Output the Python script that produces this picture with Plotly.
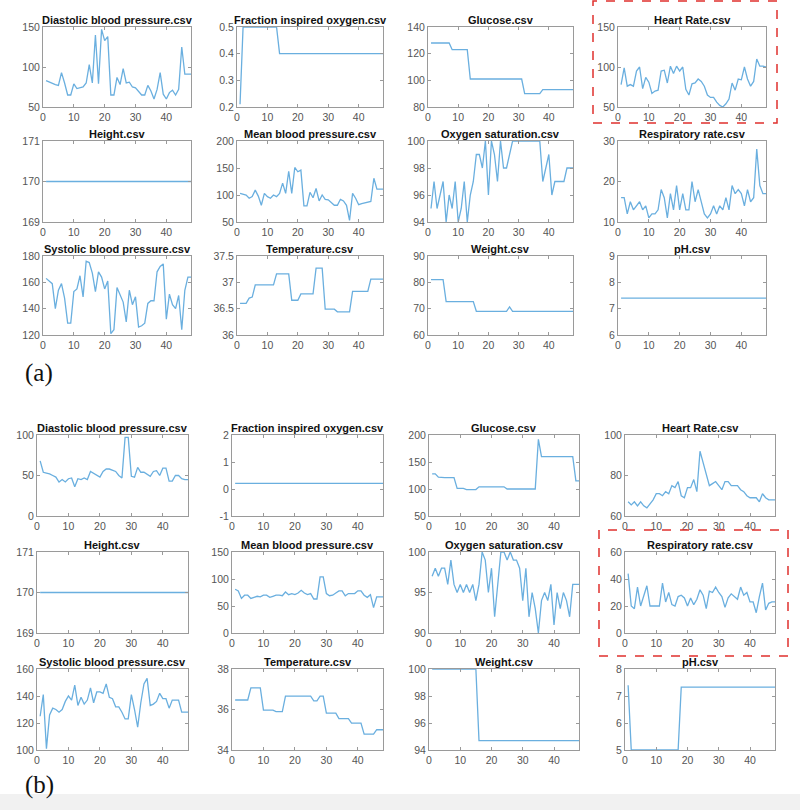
import plotly.graph_objects as go

# ---------------- data ----------------
hours = list(range(1, 49))
x_ticks = [0, 10, 20, 30, 40]
x_range = [0, 48]

titles = ["Diastolic blood pressure.csv", "Fraction inspired oxygen.csv", "Glucose.csv", "Heart Rate.csv",
          "Height.csv", "Mean blood pressure.csv", "Oxygen saturation.csv", "Respiratory rate.csv",
          "Systolic blood pressure.csv", "Temperature.csv", "Weight.csv", "pH.csv"]
panel_labels = ["(a)", "(b)"]

# ---- panel (a) ----
a_diastolic = [83, 81, 80, 78, 77, 93, 80, 65, 65, 79, 73, 74, 75, 80, 103, 80, 140, 79, 147, 133,
               138, 65, 65, 87, 78, 98, 80, 81, 75, 74, 70, 65, 65, 77, 70, 60, 72, 93, 66, 60,
               68, 71, 65, 72, 125, 91, 91, 91]
a_fio2 = [0.21, 0.5, 0.5, 0.5, 0.5, 0.5, 0.5, 0.5, 0.5, 0.5, 0.5, 0.5, 0.5, 0.4, 0.4, 0.4, 0.4, 0.4, 0.4, 0.4,
          0.4, 0.4, 0.4, 0.4, 0.4, 0.4, 0.4, 0.4, 0.4, 0.4, 0.4, 0.4, 0.4, 0.4, 0.4, 0.4, 0.4, 0.4, 0.4, 0.4,
          0.4, 0.4, 0.4, 0.4, 0.4, 0.4, 0.4, 0.4]
a_glucose = [128, 128, 128, 128, 128, 128, 128, 123, 123, 123, 123, 123, 123, 101, 101, 101, 101, 101, 101, 101,
             101, 101, 101, 101, 101, 101, 101, 101, 101, 101, 101, 90, 90, 90, 90, 90, 90, 93, 93, 93,
             93, 93, 93, 93, 93, 93, 93, 93]
a_heart = [78, 99, 76, 78, 76, 95, 100, 73, 87, 81, 67, 70, 71, 95, 96, 80, 101, 92, 101, 95,
           100, 72, 65, 79, 80, 85, 82, 76, 65, 62, 62, 56, 52, 50, 54, 60, 80, 71, 85, 84,
           100, 85, 76, 82, 110, 101, 101, 100]
a_height = [170, 170, 170, 170, 170, 170, 170, 170, 170, 170, 170, 170, 170, 170, 170, 170, 170, 170, 170, 170,
            170, 170, 170, 170, 170, 170, 170, 170, 170, 170, 170, 170, 170, 170, 170, 170, 170, 170, 170, 170,
            170, 170, 170, 170, 170, 170, 170, 170]
a_meanbp = [103, 101, 100, 94, 97, 109, 98, 81, 103, 97, 94, 100, 97, 103, 122, 103, 144, 103, 151, 143,
            146, 80, 80, 105, 95, 112, 89, 100, 92, 91, 86, 81, 81, 92, 89, 81, 53, 103, 94, 82,
            84, 85, 86, 88, 131, 111, 111, 111]
a_oxygen = [95, 97, 95, 96, 97, 94, 96, 95, 97, 94, 95, 97, 94, 96, 97, 99, 99, 98, 100, 96,
            100, 99, 97, 100, 98, 98, 99, 100, 100, 100, 100, 100, 100, 100, 100, 100, 100, 97, 98, 99,
            96, 97, 97, 97, 97, 98, 98, 98]
a_resp = [16, 16, 12, 15, 13, 14, 15, 13, 14, 11, 12, 12, 13, 18, 16, 11, 17, 13, 19, 13,
          17, 13, 13, 20, 15, 18, 15, 12, 11, 12, 14, 12, 14, 13, 16, 13, 19, 17, 18, 17,
          14, 18, 15, 16, 28, 19, 17, 17]
a_systolic = [163, 161, 159, 140, 154, 159, 148, 129, 129, 153, 155, 165, 149, 176, 175, 167, 153, 168, 164, 155,
              161, 121, 124, 156, 151, 145, 130, 154, 143, 149, 126, 127, 129, 144, 146, 146, 168, 172, 174, 132,
              151, 143, 140, 150, 124, 154, 164, 164]
a_temp = [36.6, 36.6, 36.6, 36.7, 36.72, 36.95, 36.95, 36.95, 36.95, 36.95, 36.95, 36.95, 37.16, 37.16, 37.16,
          37.16, 37.16, 36.66, 36.66, 36.66, 36.78, 36.78, 36.78, 36.78, 36.78, 37.27, 37.27, 37.27, 36.49, 36.49,
          36.49, 36.49, 36.44, 36.44, 36.44, 36.44, 36.44, 36.83, 36.83, 36.83, 36.83, 36.83, 36.83, 37.06, 37.06,
          37.06, 37.06, 37.06]
a_weight = [81, 81, 81, 81, 81, 72.7, 72.7, 72.7, 72.7, 72.7, 72.7, 72.7, 72.7, 72.7, 72.7, 69, 69, 69, 69, 69,
            69, 69, 69, 69, 69, 69, 70.7, 69, 69, 69, 69, 69, 69, 69, 69, 69, 69, 69, 69, 69,
            69, 69, 69, 69, 69, 69, 69, 69]
a_ph = [7.4, 7.4, 7.4, 7.4, 7.4, 7.4, 7.4, 7.4, 7.4, 7.4, 7.4, 7.4, 7.4, 7.4, 7.4, 7.4, 7.4, 7.4, 7.4, 7.4,
        7.4, 7.4, 7.4, 7.4, 7.4, 7.4, 7.4, 7.4, 7.4, 7.4, 7.4, 7.4, 7.4, 7.4, 7.4, 7.4, 7.4, 7.4, 7.4, 7.4,
        7.4, 7.4, 7.4, 7.4, 7.4, 7.4, 7.4, 7.4]

# ---- panel (b) ----
b_diastolic = [68, 54, 53, 52, 50, 48, 42, 45, 42, 46, 47, 36, 46, 45, 47, 45, 55, 53, 51, 48,
               55, 58, 58, 56, 55, 50, 47, 97, 97, 49, 48, 60, 54, 54, 51, 49, 55, 56, 50, 59,
               59, 43, 43, 50, 50, 46, 45, 45]
b_fio2 = [0.21, 0.21, 0.21, 0.21, 0.21, 0.21, 0.21, 0.21, 0.21, 0.21, 0.21, 0.21, 0.21, 0.21, 0.21, 0.21,
          0.21, 0.21, 0.21, 0.21, 0.21, 0.21, 0.21, 0.21, 0.21, 0.21, 0.21, 0.21, 0.21, 0.21, 0.21, 0.21,
          0.21, 0.21, 0.21, 0.21, 0.21, 0.21, 0.21, 0.21, 0.21, 0.21, 0.21, 0.21, 0.21, 0.21, 0.21, 0.21]
b_glucose = [128, 128, 122, 121, 121, 121, 121, 121, 101, 101, 101, 99, 99, 99, 99, 104, 104, 104, 104, 104,
             104, 104, 104, 104, 100, 100, 100, 100, 100, 100, 100, 100, 100, 100, 192, 160, 160, 160, 160, 160,
             160, 160, 160, 160, 160, 160, 115, 115]
b_heart = [67, 65.5, 67, 65, 67, 65, 64, 66, 68, 71, 71, 70, 72, 71, 75, 74, 77, 70, 69, 74,
           74, 78, 72, 92, 86, 80, 75, 76, 77, 75, 73, 77, 77, 75, 75, 75, 73, 72, 70, 69,
           69, 69, 67, 71, 69, 68, 68, 68]
b_height = [170, 170, 170, 170, 170, 170, 170, 170, 170, 170, 170, 170, 170, 170, 170, 170, 170, 170, 170, 170,
            170, 170, 170, 170, 170, 170, 170, 170, 170, 170, 170, 170, 170, 170, 170, 170, 170, 170, 170, 170,
            170, 170, 170, 170, 170, 170, 170, 170]
b_meanbp = [81, 78, 64, 70, 70, 64, 66, 68, 67, 70, 70, 66, 68, 70, 70, 69, 76, 71, 73, 71,
            74, 79, 74, 71, 73, 63, 63, 104, 104, 73, 69, 70, 74, 78, 78, 69, 73, 73, 73, 78,
            78, 70, 66, 71, 47, 67, 67, 67]
b_oxygen = [97, 98, 97, 98, 98, 96, 99, 96, 95, 96, 95, 96, 95, 96, 94, 96, 100, 99, 95, 98,
            92, 96, 100, 100, 99, 100, 99, 99, 98, 94, 98, 92, 95, 93, 90, 94, 95, 94, 96, 91,
            95, 93, 95, 94, 92, 96, 96, 96]
b_resp = [44, 20, 18, 34, 20, 28, 35, 20, 20, 20, 20, 37, 23, 30, 21, 20, 27, 28, 26, 20,
          26, 21, 25, 32, 28, 18, 31, 30, 34, 30, 27, 19, 26, 29, 27, 25, 34, 28, 30, 23,
          23, 15, 27, 37, 17, 22, 23, 23]
b_systolic = [125, 141, 101, 126, 131, 130, 128, 130, 136, 140, 137, 148, 133, 139, 134, 137, 146, 135, 143, 143,
              142, 149, 139, 138, 132, 132, 128, 123, 123, 141, 130, 117, 135, 149, 153, 133, 134, 136, 142, 138,
              138, 131, 137, 137, 137, 128, 128, 128]
b_temp = [36.47, 36.47, 36.47, 36.47, 36.47, 37.07, 37.07, 37.07, 37.07, 35.97, 35.97, 35.97, 35.97, 35.9, 35.9,
          35.9, 36.66, 36.66, 36.66, 36.66, 36.66, 36.66, 36.66, 36.66, 36.66, 36.43, 36.43, 36.66, 36.66, 35.82,
          35.82, 35.82, 35.82, 35.55, 35.55, 35.55, 35.55, 35.33, 35.33, 35.33, 35.33, 34.78, 34.78, 34.78, 34.78,
          35.0, 35.0, 35.0]
b_weight = [100, 100, 100, 100, 100, 100, 100, 100, 100, 100, 100, 100, 100, 100, 100, 94.7, 94.7, 94.7, 94.7,
            94.7, 94.7, 94.7, 94.7, 94.7, 94.7, 94.7, 94.7, 94.7, 94.7, 94.7, 94.7, 94.7, 94.7, 94.7, 94.7, 94.7,
            94.7, 94.7, 94.7, 94.7, 94.7, 94.7, 94.7, 94.7, 94.7, 94.7, 94.7, 94.7]
b_ph = [7.4, 5.0, 5.0, 5.0, 5.0, 5.0, 5.0, 5.0, 5.0, 5.0, 5.0, 5.0, 5.0, 5.0, 5.0, 5.0, 5.0, 7.33, 7.33, 7.33,
        7.33, 7.33, 7.33, 7.33, 7.33, 7.33, 7.33, 7.33, 7.33, 7.33, 7.33, 7.33, 7.33, 7.33, 7.33, 7.33, 7.33, 7.33,
        7.33, 7.33, 7.33, 7.33, 7.33, 7.33, 7.33, 7.33, 7.33, 7.33]

a_yticks = [[50, 100, 150], [0.2, 0.3, 0.4, 0.5], [80, 100, 120, 140], [50, 100, 150],
            [169, 170, 171], [50, 100, 150, 200], [94, 96, 98, 100], [10, 20, 30],
            [120, 140, 160, 180], [36, 36.5, 37, 37.5], [60, 70, 80, 90], [6, 7, 8, 9]]
b_yticks = [[0, 50, 100], [-1, 0, 1, 2], [50, 100, 150, 200], [60, 80, 100],
            [169, 170, 171], [0, 50, 100, 150], [90, 95, 100], [0, 20, 40, 60],
            [100, 120, 140, 160], [34, 36, 38], [94, 96, 98, 100], [5, 6, 7, 8]]

a_series = [a_diastolic, a_fio2, a_glucose, a_heart, a_height, a_meanbp, a_oxygen, a_resp,
            a_systolic, a_temp, a_weight, a_ph]
b_series = [b_diastolic, b_fio2, b_glucose, b_heart, b_height, b_meanbp, b_oxygen, b_resp,
            b_systolic, b_temp, b_weight, b_ph]

# ---------------- layout (pixels) ----------------
W, H = 800, 810
a_cols = [(43, 191), (237, 383), (428, 573), (618, 766)]
a_rows = [(27, 107), (141, 222), (256, 335)]
b_cols = [(37, 188), (232, 383), (429, 579), (625, 775)]
b_rows = [(435, 516), (552, 633), (669, 750)]

LINE = "#6aafdf"
AXC = "#9a9a9a"
TICKC = "#555555"
FONT = "Liberation Sans, Arial, sans-serif"


def fx(px):
    return px / W


def fy(py):
    return 1 - py / H


fig = go.Figure()
layout = {}
annotations = []
n = 0
for panel, (series, yticks, cols, rows) in enumerate([(a_series, a_yticks, a_cols, a_rows),
                                                      (b_series, b_yticks, b_cols, b_rows)]):
    for k in range(12):
        n += 1
        r, c = divmod(k, 4)
        xl, xr = cols[c]
        yt, yb = rows[r]
        xname = "x" if n == 1 else f"x{n}"
        yname = "y" if n == 1 else f"y{n}"
        fig.add_trace(go.Scatter(x=hours, y=series[k], mode="lines", xaxis=xname, yaxis=yname,
                                 line=dict(color=LINE, width=1.3), showlegend=False, hoverinfo="skip"))
        common = dict(showline=True, linecolor=AXC, linewidth=1, mirror="ticks", ticks="inside",
                      ticklen=3, tickcolor=AXC, showgrid=False, zeroline=False, automargin=False,
                      tickfont=dict(family=FONT, size=10.5, color=TICKC))
        layout["xaxis" if n == 1 else f"xaxis{n}"] = dict(
            domain=[fx(xl), fx(xr)], anchor=yname, range=x_range, tickmode="array",
            tickvals=x_ticks, ticktext=[str(v) for v in x_ticks], **common)
        yt_vals = yticks[k]
        layout["yaxis" if n == 1 else f"yaxis{n}"] = dict(
            domain=[fy(yb), fy(yt)], anchor=xname, range=[min(yt_vals), max(yt_vals)], tickmode="array",
            tickvals=yt_vals, ticktext=[f"{v:g}" for v in yt_vals], **common)
        annotations.append(dict(text=f"<b>{titles[k]}</b>", x=fx((xl + xr) / 2), y=fy(yt), xref="paper",
                                yref="paper", xanchor="center", yanchor="bottom", showarrow=False, yshift=-1,
                                font=dict(family=FONT, size=11, color="#111111")))

annotations.append(dict(text=panel_labels[0], x=fx(39), y=fy(373), xref="paper", yref="paper",
                        xanchor="center", yanchor="middle", showarrow=False,
                        font=dict(family="Liberation Serif, Times New Roman, serif", size=25, color="#111")))
annotations.append(dict(text=panel_labels[1], x=fx(39), y=fy(785), xref="paper", yref="paper",
                        xanchor="center", yanchor="middle", showarrow=False,
                        font=dict(family="Liberation Serif, Times New Roman, serif", size=25, color="#111")))

shapes = [
    dict(type="rect", xref="paper", yref="paper", x0=0, x1=1, y0=0, y1=fy(794), fillcolor="#f1f1f1",
         line=dict(width=0), layer="below"),
    dict(type="rect", xref="paper", yref="paper", x0=fx(593), x1=fx(777), y0=fy(123), y1=fy(1),
         line=dict(color="#e0302e", width=1.5, dash="dash"), fillcolor="rgba(0,0,0,0)"),
    dict(type="rect", xref="paper", yref="paper", x0=fx(599), x1=fx(788), y0=fy(656), y1=fy(530),
         line=dict(color="#e0302e", width=1.5, dash="dash"), fillcolor="rgba(0,0,0,0)"),
]

fig.update_layout(template="none", width=W, height=H, margin=dict(l=0, r=0, t=0, b=0, pad=0),
                  autosize=False, paper_bgcolor="white", plot_bgcolor="white", hovermode=False,
                  annotations=annotations, shapes=shapes, **layout)

fig.write_html("out.html", config={"displayModeBar": False, "staticPlot": True},
               post_script="document.body.style.margin='0px';document.body.style.overflow='hidden';")
